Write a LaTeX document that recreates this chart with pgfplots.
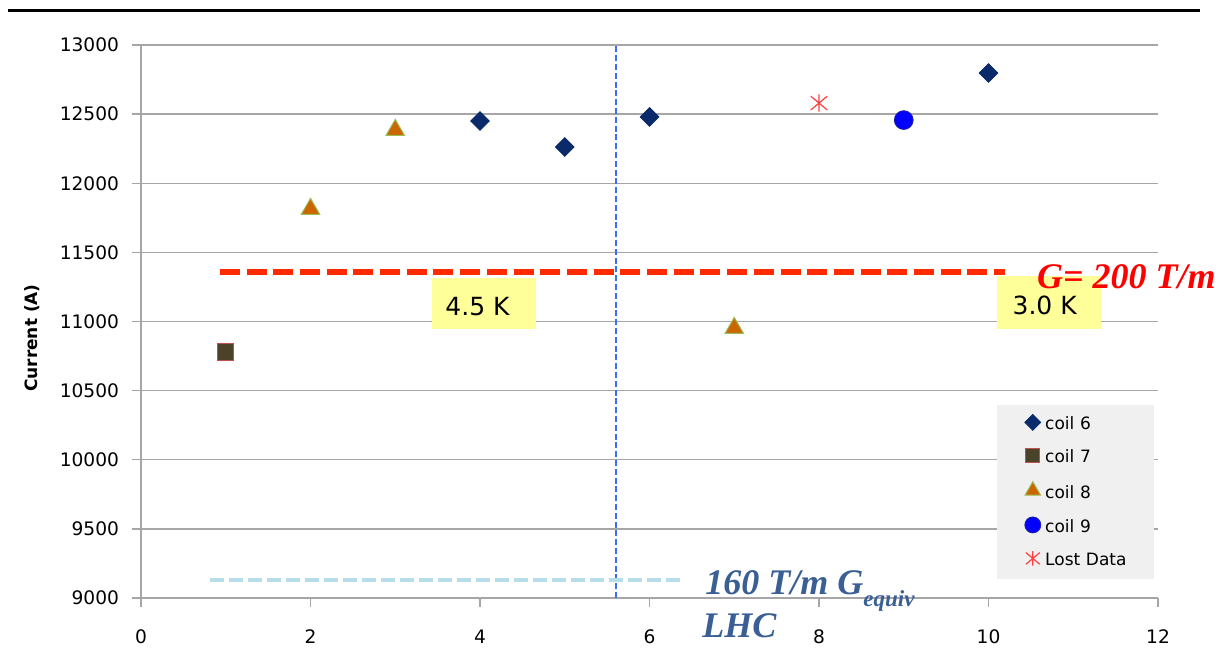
\documentclass[border=0pt]{standalone}
\usepackage{pgfplots}
\pgfplotsset{compat=1.18}
\usepackage{fontspec}
\setmainfont{DejaVu Sans}
\newfontfamily\annfont{Liberation Serif}
\definecolor{gridgray}{HTML}{A6A6A6}
\definecolor{cSix}{HTML}{0A2A6A}
\definecolor{cSevenFill}{HTML}{4A4229}
\definecolor{cSevenDraw}{HTML}{C0504D}
\definecolor{cEightFill}{HTML}{CC6600}
\definecolor{cEightDraw}{HTML}{9BBB59}
\definecolor{cNine}{HTML}{0000FF}
\definecolor{cNineDraw}{HTML}{2020A0}
\definecolor{cLost}{HTML}{FF4040}
\definecolor{redline}{HTML}{FF2A00}
\definecolor{lblue}{HTML}{B7DEE8}
\definecolor{sepblue}{HTML}{3A6EF5}
\definecolor{ybox}{HTML}{FFFF99}
\definecolor{annblue}{HTML}{3A5F95}
\definecolor{legbg}{HTML}{F0F0F0}
\pgfdeclareplotmark{xast}{%
  \pgfpathmoveto{\pgfqpoint{0pt}{\pgfplotmarksize}}%
  \pgfpathlineto{\pgfqpoint{0pt}{-\pgfplotmarksize}}%
  \pgfpathmoveto{\pgfqpoint{-0.95\pgfplotmarksize}{0.8\pgfplotmarksize}}%
  \pgfpathlineto{\pgfqpoint{0.95\pgfplotmarksize}{-0.8\pgfplotmarksize}}%
  \pgfpathmoveto{\pgfqpoint{-0.95\pgfplotmarksize}{-0.8\pgfplotmarksize}}%
  \pgfpathlineto{\pgfqpoint{0.95\pgfplotmarksize}{0.8\pgfplotmarksize}}%
  \pgfusepathqstroke}
\begin{document}
\begin{tikzpicture}
\useasboundingbox (-70.5pt,-26pt) rectangle (541.5pt,299pt);
\begin{axis}[
  scale only axis, width=508.5pt, height=276.5pt,
  xmin=0, xmax=12, ymin=9000, ymax=13000,
  scaled y ticks=false, scaled x ticks=false,
  xtick={0,2,4,6,8,10,12}, xticklabels={0,2,4,6,8,10,12},
  ytick={9000,9500,10000,10500,11000,11500,12000,12500,13000},
  yticklabels={9000,9500,10000,10500,11000,11500,12000,12500,13000},
  axis x line*=bottom, axis y line*=left,
  axis line style={draw=gridgray, line width=0.7pt},
  ymajorgrids, major grid style={draw=gridgray, line width=0.7pt},
  tick align=outside, major tick length=4.5pt,
  tick style={draw=gridgray, line width=0.7pt},
  ticklabel style={font=\fontsize{9.3}{11}\selectfont},
  xticklabel style={yshift=-8pt},
  yticklabel style={xshift=-3pt},
  ylabel={Current (A)},
  every axis y label/.style={at={(rel axis cs:0,0.47)}, xshift=-54.5pt, rotate=90, anchor=center, font=\fontsize{8.5}{10}\selectfont\bfseries},
  clip=false,
  mymark/.style={only marks, legend image code/.code={\path (0pt,0pt) (10pt,0pt); \draw[##1,/tikz/every mark/.append style={scale=0.85}] plot coordinates {(4pt,1.2pt)};}},
  legend style={at={(0.8417,0.349)}, anchor=north west, fill=legbg, draw=none,
    inner xsep=13.5pt, inner ysep=4.5pt, row sep=7.4pt, column sep=0pt,
    font=\fontsize{8.5}{10}\selectfont,
    nodes={inner sep=0pt, text height=7pt, text depth=2pt, text width=41pt, align=left}},
  legend cell align=left,
]
% yellow boxes
\fill[ybox] (axis cs:3.43,10946) rectangle (axis cs:4.66,11315);
\fill[ybox] (axis cs:10.1,10946) rectangle (axis cs:11.33,11330);
% reference lines
\addplot[forget plot, color=sepblue, line width=0.9pt, dash pattern=on 3pt off 1.4pt] coordinates {(5.6,9000) (5.6,13000)};
\addplot[forget plot, draw=redline, line width=3pt, dash pattern=on 10pt off 3.35pt] coordinates {(0.93,11358) (10.2,11358)};
\addplot[forget plot, draw=lblue, line width=2pt, dash pattern=on 7.3pt off 2.2pt] coordinates {(0.81,9130) (6.36,9130)};
% data
\addplot[mymark, mark=square*, mark size=3.3pt, mark options={rotate=45, fill=cSix, draw=cSix}] coordinates {(4,12450) (5,12262) (6,12480) (10,12798)};
\addlegendentry{coil 6}
\addplot[mymark, mark=square*, mark size=4.1pt, mark options={fill=cSevenFill, draw=cSevenDraw, line width=0.5pt}] coordinates {(1,10779)};
\addlegendentry{coil 7}
\addplot[mymark, mark=triangle*, mark size=5.3pt, mark options={fill=cEightFill, draw=cEightDraw, line width=0.5pt}] coordinates {(2,11814) (3,12385) (7,10953)};
\addlegendentry{coil 8}
\addplot[mymark, mark=*, mark size=4.7pt, mark options={fill=cNine, draw=cNineDraw, line width=0.4pt}] coordinates {(9,12457)};
\addlegendentry{coil 9}
\addplot[mymark, mark=xast, mark size=4.3pt, mark options={draw=cLost, line width=0.6pt}] coordinates {(8,12580)};
\addlegendentry{Lost Data}
% annotations
\node[anchor=base west, inner sep=0pt, font=\fontsize{12.5}{14}\selectfont] at (axis cs:3.587,11047) {4.5 K};
\node[anchor=base west, inner sep=0pt, font=\fontsize{12.5}{14}\selectfont] at (axis cs:10.28,11054) {3.0 K};
\node[anchor=base west, inner sep=0pt, text=red, font=\annfont\bfseries\itshape\fontsize{18}{20}\selectfont] at (axis cs:10.57,11242) {G= 200 T/m};
\node[anchor=base west, inner sep=0pt, text=annblue, font=\annfont\bfseries\itshape\fontsize{18}{20}\selectfont] at (axis cs:6.655,9022) {160 T/m G\raisebox{-6pt}{\fontsize{11.5}{12}\selectfont equiv}};
\node[anchor=base west, inner sep=0pt, text=annblue, font=\annfont\bfseries\itshape\fontsize{18}{20}\selectfont] at (axis cs:6.62,8711) {LHC};
\draw[line width=1.5pt] (rel axis cs:-0.1308,1.0633) -- (rel axis cs:1.0413,1.0633);
\end{axis}
\end{tikzpicture}
\end{document}
